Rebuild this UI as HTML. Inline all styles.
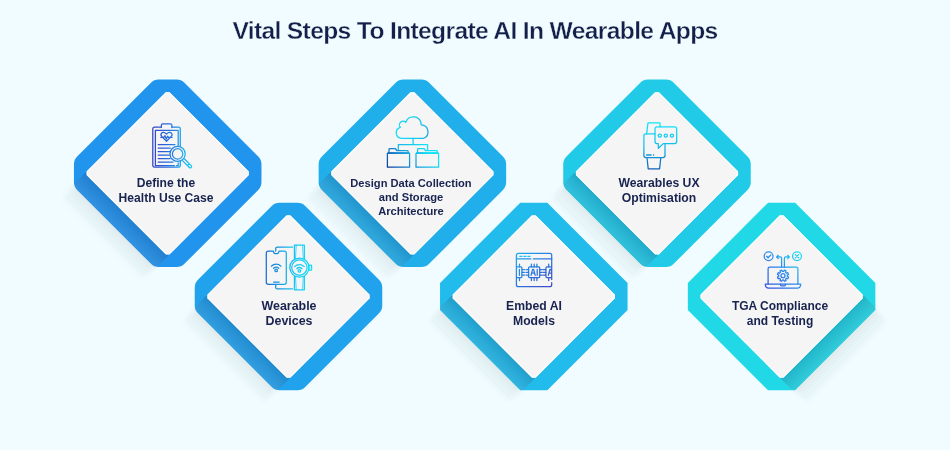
<!DOCTYPE html>
<html><head><meta charset="utf-8"><style>
html,body{margin:0;padding:0;}
body{width:950px;height:450px;overflow:hidden;background:#f0fcff;position:relative;font-family:"Liberation Sans",sans-serif;}
svg.main{position:absolute;left:0;top:0;}
.title{will-change:transform;position:absolute;left:0;width:950px;text-align:center;top:16.18px;font-size:24.6px;line-height:30px;font-weight:bold;color:#142049;letter-spacing:-0.64px;-webkit-text-stroke:0.35px #f0fcff;}
.lab{will-change:transform;position:absolute;width:200px;text-align:center;font-weight:bold;color:#18234f;white-space:nowrap;}
</style></head><body>
<div class="title">Vital Steps To Integrate AI In Wearable Apps</div>
<svg class="main" width="950" height="450" viewBox="0 0 950 450">
<defs>
<filter id="sblur" x="-20%" y="-50%" width="140%" height="200%"><feGaussianBlur stdDeviation="2"/></filter>
<linearGradient id="oshad" x1="0" y1="0" x2="0" y2="1"><stop offset="0" stop-color="#3a4448" stop-opacity="0.105"/><stop offset="1" stop-color="#3a4448" stop-opacity="0"/></linearGradient>
<linearGradient id="band" x1="0" y1="0" x2="0" y2="1"><stop offset="0" stop-color="#1a2f5a" stop-opacity="0.22"/><stop offset="1" stop-color="#8a96a8" stop-opacity="0.16"/></linearGradient>
<clipPath id="fc0"><path d="M-59.972,-72.628 A11.0,11.0 0 0 1 -52.194,-75.850 L52.194,-75.850 A11.0,11.0 0 0 1 59.972,-72.628 L72.628,-59.972 A11.0,11.0 0 0 1 75.850,-52.194 L75.850,52.194 A11.0,11.0 0 0 1 72.628,59.972 L59.972,72.628 A11.0,11.0 0 0 1 52.194,75.850 L-52.194,75.850 A11.0,11.0 0 0 1 -59.972,72.628 L-72.628,59.972 A11.0,11.0 0 0 1 -75.850,52.194 L-75.850,-52.194 A11.0,11.0 0 0 1 -72.628,-59.972 Z"/></clipPath><clipPath id="fc1"><path d="M-59.972,-72.628 A11.0,11.0 0 0 1 -52.194,-75.850 L52.194,-75.850 A11.0,11.0 0 0 1 59.972,-72.628 L72.628,-59.972 A11.0,11.0 0 0 1 75.850,-52.194 L75.850,52.194 A11.0,11.0 0 0 1 72.628,59.972 L59.972,72.628 A11.0,11.0 0 0 1 52.194,75.850 L-52.194,75.850 A11.0,11.0 0 0 1 -59.972,72.628 L-72.628,59.972 A11.0,11.0 0 0 1 -75.850,52.194 L-75.850,-52.194 A11.0,11.0 0 0 1 -72.628,-59.972 Z"/></clipPath><clipPath id="fc2"><path d="M-59.972,-72.628 A11.0,11.0 0 0 1 -52.194,-75.850 L52.194,-75.850 A11.0,11.0 0 0 1 59.972,-72.628 L72.628,-59.972 A11.0,11.0 0 0 1 75.850,-52.194 L75.850,52.194 A11.0,11.0 0 0 1 72.628,59.972 L59.972,72.628 A11.0,11.0 0 0 1 52.194,75.850 L-52.194,75.850 A11.0,11.0 0 0 1 -59.972,72.628 L-72.628,59.972 A11.0,11.0 0 0 1 -75.850,52.194 L-75.850,-52.194 A11.0,11.0 0 0 1 -72.628,-59.972 Z"/></clipPath><clipPath id="fc3"><path d="M-56.750,-75.850 L56.750,-75.850 L75.850,-56.750 L75.850,56.750 L56.750,75.850 L-56.750,75.850 L-75.850,56.750 L-75.850,-56.750 Z"/></clipPath><clipPath id="fc4"><path d="M-59.972,-72.628 A11.0,11.0 0 0 1 -52.194,-75.850 L52.194,-75.850 A11.0,11.0 0 0 1 59.972,-72.628 L72.628,-59.972 A11.0,11.0 0 0 1 75.850,-52.194 L75.850,52.194 A11.0,11.0 0 0 1 72.628,59.972 L59.972,72.628 A11.0,11.0 0 0 1 52.194,75.850 L-52.194,75.850 A11.0,11.0 0 0 1 -59.972,72.628 L-72.628,59.972 A11.0,11.0 0 0 1 -75.850,52.194 L-75.850,-52.194 A11.0,11.0 0 0 1 -72.628,-59.972 Z"/></clipPath><clipPath id="fc5"><path d="M-56.750,-75.850 L56.750,-75.850 L75.850,-56.750 L75.850,56.750 L56.750,75.850 L-56.750,75.850 L-75.850,56.750 L-75.850,-56.750 Z"/></clipPath>
</defs>
<g transform="translate(167.7,173.3) rotate(45)">
<rect x="-56.74999999999999" y="72.85" width="113.49999999999999" height="22" fill="url(#oshad)" filter="url(#sblur)"/>
<path d="M-59.972,-72.628 A11.0,11.0 0 0 1 -52.194,-75.850 L52.194,-75.850 A11.0,11.0 0 0 1 59.972,-72.628 L72.628,-59.972 A11.0,11.0 0 0 1 75.850,-52.194 L75.850,52.194 A11.0,11.0 0 0 1 72.628,59.972 L59.972,72.628 A11.0,11.0 0 0 1 52.194,75.850 L-52.194,75.850 A11.0,11.0 0 0 1 -59.972,72.628 L-72.628,59.972 A11.0,11.0 0 0 1 -75.850,52.194 L-75.850,-52.194 A11.0,11.0 0 0 1 -72.628,-59.972 Z" fill="#2194ee"/>
<rect x="-58.65" y="57.65" width="117.3" height="20.199999999999996" fill="url(#band)" clip-path="url(#fc0)"/>
<path d="M-56.100,-58.650 L56.100,-58.650 L58.650,-56.100 L58.650,56.100 L56.100,58.650 L-56.100,58.650 L-58.650,56.100 L-58.650,-56.100 Z" fill="#f5f5f5"/><path d="M-55.600,-58.150 L55.600,-58.150 L58.150,-55.600 L58.150,55.600 L55.600,58.150 L-55.600,58.150 L-58.150,55.600 L-58.150,-55.600 Z" fill="none" stroke="#ffffff" stroke-opacity="0.85" stroke-width="1"/>
</g><g transform="translate(288.5,296.5) rotate(45)">
<rect x="-56.74999999999999" y="72.85" width="113.49999999999999" height="22" fill="url(#oshad)" filter="url(#sblur)"/>
<path d="M-59.972,-72.628 A11.0,11.0 0 0 1 -52.194,-75.850 L52.194,-75.850 A11.0,11.0 0 0 1 59.972,-72.628 L72.628,-59.972 A11.0,11.0 0 0 1 75.850,-52.194 L75.850,52.194 A11.0,11.0 0 0 1 72.628,59.972 L59.972,72.628 A11.0,11.0 0 0 1 52.194,75.850 L-52.194,75.850 A11.0,11.0 0 0 1 -59.972,72.628 L-72.628,59.972 A11.0,11.0 0 0 1 -75.850,52.194 L-75.850,-52.194 A11.0,11.0 0 0 1 -72.628,-59.972 Z" fill="#21a2ed"/>
<rect x="-58.65" y="57.65" width="117.3" height="20.199999999999996" fill="url(#band)" clip-path="url(#fc1)"/>
<path d="M-56.100,-58.650 L56.100,-58.650 L58.650,-56.100 L58.650,56.100 L56.100,58.650 L-56.100,58.650 L-58.650,56.100 L-58.650,-56.100 Z" fill="#f5f5f5"/><path d="M-55.600,-58.150 L55.600,-58.150 L58.150,-55.600 L58.150,55.600 L55.600,58.150 L-55.600,58.150 L-58.150,55.600 L-58.150,-55.600 Z" fill="none" stroke="#ffffff" stroke-opacity="0.85" stroke-width="1"/>
</g><g transform="translate(412.4,173.3) rotate(45)">
<rect x="-56.74999999999999" y="72.85" width="113.49999999999999" height="22" fill="url(#oshad)" filter="url(#sblur)"/>
<path d="M-59.972,-72.628 A11.0,11.0 0 0 1 -52.194,-75.850 L52.194,-75.850 A11.0,11.0 0 0 1 59.972,-72.628 L72.628,-59.972 A11.0,11.0 0 0 1 75.850,-52.194 L75.850,52.194 A11.0,11.0 0 0 1 72.628,59.972 L59.972,72.628 A11.0,11.0 0 0 1 52.194,75.850 L-52.194,75.850 A11.0,11.0 0 0 1 -59.972,72.628 L-72.628,59.972 A11.0,11.0 0 0 1 -75.850,52.194 L-75.850,-52.194 A11.0,11.0 0 0 1 -72.628,-59.972 Z" fill="#21afeb"/>
<rect x="-58.65" y="57.65" width="117.3" height="20.199999999999996" fill="url(#band)" clip-path="url(#fc2)"/>
<path d="M-56.100,-58.650 L56.100,-58.650 L58.650,-56.100 L58.650,56.100 L56.100,58.650 L-56.100,58.650 L-58.650,56.100 L-58.650,-56.100 Z" fill="#f5f5f5"/><path d="M-55.600,-58.150 L55.600,-58.150 L58.150,-55.600 L58.150,55.600 L55.600,58.150 L-55.600,58.150 L-58.150,55.600 L-58.150,-55.600 Z" fill="none" stroke="#ffffff" stroke-opacity="0.85" stroke-width="1"/>
</g><g transform="translate(533.8,296.5) rotate(45)">
<rect x="-56.74999999999999" y="72.85" width="113.49999999999999" height="22" fill="url(#oshad)" filter="url(#sblur)"/>
<path d="M-56.750,-75.850 L56.750,-75.850 L75.850,-56.750 L75.850,56.750 L56.750,75.850 L-56.750,75.850 L-75.850,56.750 L-75.850,-56.750 Z" fill="#21bceb"/>
<rect x="-58.65" y="57.65" width="117.3" height="20.199999999999996" fill="url(#band)" clip-path="url(#fc3)"/>
<path d="M-56.100,-58.650 L56.100,-58.650 L58.650,-56.100 L58.650,56.100 L56.100,58.650 L-56.100,58.650 L-58.650,56.100 L-58.650,-56.100 Z" fill="#f5f5f5"/><path d="M-55.600,-58.150 L55.600,-58.150 L58.150,-55.600 L58.150,55.600 L55.600,58.150 L-55.600,58.150 L-58.150,55.600 L-58.150,-55.600 Z" fill="none" stroke="#ffffff" stroke-opacity="0.85" stroke-width="1"/>
</g><g transform="translate(657.0,173.3) rotate(45)">
<rect x="-56.74999999999999" y="72.85" width="113.49999999999999" height="22" fill="url(#oshad)" filter="url(#sblur)"/>
<path d="M-59.972,-72.628 A11.0,11.0 0 0 1 -52.194,-75.850 L52.194,-75.850 A11.0,11.0 0 0 1 59.972,-72.628 L72.628,-59.972 A11.0,11.0 0 0 1 75.850,-52.194 L75.850,52.194 A11.0,11.0 0 0 1 72.628,59.972 L59.972,72.628 A11.0,11.0 0 0 1 52.194,75.850 L-52.194,75.850 A11.0,11.0 0 0 1 -59.972,72.628 L-72.628,59.972 A11.0,11.0 0 0 1 -75.850,52.194 L-75.850,-52.194 A11.0,11.0 0 0 1 -72.628,-59.972 Z" fill="#21cbe8"/>
<rect x="-58.65" y="57.65" width="117.3" height="20.199999999999996" fill="url(#band)" clip-path="url(#fc4)"/>
<path d="M-56.100,-58.650 L56.100,-58.650 L58.650,-56.100 L58.650,56.100 L56.100,58.650 L-56.100,58.650 L-58.650,56.100 L-58.650,-56.100 Z" fill="#f5f5f5"/><path d="M-55.600,-58.150 L55.600,-58.150 L58.150,-55.600 L58.150,55.600 L55.600,58.150 L-55.600,58.150 L-58.150,55.600 L-58.150,-55.600 Z" fill="none" stroke="#ffffff" stroke-opacity="0.85" stroke-width="1"/>
</g><g transform="translate(781.6,296.5) rotate(-45)">
<rect x="-56.74999999999999" y="72.85" width="113.49999999999999" height="22" fill="url(#oshad)" filter="url(#sblur)"/>
<path d="M-56.750,-75.850 L56.750,-75.850 L75.850,-56.750 L75.850,56.750 L56.750,75.850 L-56.750,75.850 L-75.850,56.750 L-75.850,-56.750 Z" fill="#21d8e6"/>
<rect x="-58.65" y="57.65" width="117.3" height="20.199999999999996" fill="url(#band)" clip-path="url(#fc5)"/>
<path d="M-56.100,-58.650 L56.100,-58.650 L58.650,-56.100 L58.650,56.100 L56.100,58.650 L-56.100,58.650 L-58.650,56.100 L-58.650,-56.100 Z" fill="#f5f5f5"/><path d="M-55.600,-58.150 L55.600,-58.150 L58.150,-55.600 L58.150,55.600 L55.600,58.150 L-55.600,58.150 L-58.150,55.600 L-58.150,-55.600 Z" fill="none" stroke="#ffffff" stroke-opacity="0.85" stroke-width="1"/>
</g>
<defs>
<linearGradient id="ig1" gradientUnits="userSpaceOnUse" x1="152" y1="0" x2="192" y2="0"><stop offset="0" stop-color="#3340c4"/><stop offset="0.45" stop-color="#2672e0"/><stop offset="1" stop-color="#18d0f4"/></linearGradient>
</defs>
<g fill="none" stroke="url(#ig1)" stroke-width="1.25" stroke-linecap="round" stroke-linejoin="round">
<!-- clipboard outer -->
<path d="M161.3,127.2 H154.7 Q152.8,127.2 152.8,129.1 V165.3 Q152.8,167.2 154.7,167.2 H178.4 Q180.3,167.2 180.3,165.3 V160.5"/>
<path d="M180.3,146.3 V129.1 Q180.3,127.2 178.4,127.2 H171.9"/>
<!-- clip tab -->
<path d="M161.3,127.6 V125.4 Q161.3,123.9 162.8,123.9 H170.4 Q171.9,123.9 171.9,125.4 V127.6"/>
<!-- inner -->
<path d="M178.2,146.3 V130.4 H155.4 V165.7 H174.5 M178.2,162.8 V165.7 H176.5"/>
<!-- heart -->
<path d="M166.5,141.3 L161.7,136.4 Q160.2,134.6 161.6,133.1 Q163.6,131.4 166.5,134 Q169.4,131.4 171.4,133.1 Q172.8,134.6 171.3,136.4 Z"/>
<path d="M160.9,137.4 H163.8 L165,135.6 L166.3,139 L167.6,136.2 L168.4,137.4 H172.1"/>
<!-- lines -->
<path d="M158.2,144.5 H175 M158.2,148 H170.3 M158.2,151.5 H169.6 M158.2,155.1 H169.4 M158.2,158.6 H170.2 M158.2,162.2 H173"/>
<!-- magnifier -->
<circle cx="177.6" cy="153.9" r="7.6"/>
<circle cx="177.6" cy="153.9" r="5.2"/>
<path d="M184.3,158.8 L191.4,165.9 A1.3,1.3 0 0 1 189.6,167.7 L182.5,160.6 M189.3,163.8 L187.5,165.6"/>
</g>
<defs>
<linearGradient id="ig3c" gradientUnits="userSpaceOnUse" x1="396" y1="0" x2="431" y2="0"><stop offset="0" stop-color="#14dcf6"/><stop offset="0.6" stop-color="#14ccf2"/><stop offset="1" stop-color="#189ee6"/></linearGradient>
<linearGradient id="ig3c2" gradientUnits="userSpaceOnUse" x1="398" y1="0" x2="428" y2="0"><stop offset="0" stop-color="#16b8ea"/><stop offset="1" stop-color="#12e2f8"/></linearGradient>
<linearGradient id="ig3f" gradientUnits="userSpaceOnUse" x1="388" y1="168" x2="418" y2="140"><stop offset="0" stop-color="#0e3a9c"/><stop offset="0.45" stop-color="#168ed6"/><stop offset="1" stop-color="#12e4f8"/></linearGradient>
</defs>
<g fill="none" stroke-width="1.25" stroke-linecap="round" stroke-linejoin="round">
<path stroke="url(#ig3c)" d="M401.6,138.3 A5.6,5.6 0 0 1 400.4,127.3 A3.6,3.6 0 0 1 405.7,122.4 A8,8 0 0 1 420.9,122.2 L421.2,124.9 A7,7 0 0 1 423.8,138.3 Z"/>
<path stroke="url(#ig3c2)" d="M413.1,138.3 V144.5 M398.3,150.3 V144.5 H427.6 V150.3"/>
<path stroke="url(#ig3f)" d="M389,153.2 V149.3 Q389,148.5 389.8,148.5 H395.2 L396.8,150.5 H407.3 Q408.1,150.5 408.1,151.3 V153.2 M387.4,153.4 H409.6 V167.2 H387.4 Z"/><path stroke="url(#ig3f)" stroke-width="0.9" d="M388,152.5 H409"/>
<path stroke="url(#ig3f)" d="M417.6,153.2 V149.3 Q417.6,148.5 418.4,148.5 H423.9 L425.5,150.5 H436.5 Q437.3,150.5 437.3,151.3 V153.2 M416,153.4 H438.6 V167.2 H416 Z"/><path stroke="url(#ig3f)" stroke-width="0.9" d="M416.6,152.5 H438"/>
</g>
<defs>
<linearGradient id="ig2" gradientUnits="userSpaceOnUse" x1="266" y1="0" x2="312" y2="0"><stop offset="0" stop-color="#1a6cd0"/><stop offset="0.55" stop-color="#18c0f0"/><stop offset="1" stop-color="#14e0fa"/></linearGradient>
</defs>
<g fill="none" stroke="url(#ig2)" stroke-width="1.25" stroke-linecap="round" stroke-linejoin="round">
<path d="M268.4,251 H273.2 L274,252.9 Q274.4,253.6 275.2,253.6 H277.2 Q278,253.6 278.4,252.9 L279.2,251 H284.2 Q286.3,251 286.3,253.1 V282.3 Q286.3,284.4 284.2,284.4 H268.4 Q266.3,284.4 266.3,282.3 V253.1 Q266.3,251 268.4,251 Z"/>
<path d="M273.6,282 H279.2"/>
<path d="M275.7,251 V248.6 Q275.7,247.1 277.2,247.1 H292.6 M275.7,284.4 V287.4 Q275.7,288.9 277.2,288.9 H292.6"/>
<circle cx="276.2" cy="270.4" r="1.3"/>
<path d="M273.6,268.3 A3.8,3.8 0 0 1 278.8,268.3 M271.4,266.2 A6.8,6.8 0 0 1 281,266.2"/>
<path d="M294.4,258.8 L294.4,245 H304.4 V258.8 M294.4,276.4 V289.8 H304.4 V276.4"/>
<path stroke-width="0.8" d="M296.2,245.4 L295.5,258.4 M302.6,245.4 L303.3,258.4 M296.2,289.4 L295.5,276.8 M302.6,289.4 L303.3,276.8"/>
<circle cx="299.4" cy="267.6" r="9.6"/>
<circle cx="299.4" cy="267.6" r="7.7"/>
<rect x="309" y="265.1" width="2.6" height="5" rx="0.6"/>
<circle cx="299.4" cy="270.8" r="1.3"/>
<path d="M296.8,268.7 A3.8,3.8 0 0 1 302,268.7 M294.6,266.6 A6.8,6.8 0 0 1 304.2,266.6"/>
</g>
<defs>
<linearGradient id="ig4" gradientUnits="userSpaceOnUse" x1="518" y1="252" x2="548" y2="290"><stop offset="0" stop-color="#1eaaf0"/><stop offset="0.5" stop-color="#2a78e0"/><stop offset="1" stop-color="#3f48c8"/></linearGradient>
<clipPath id="ic4"><rect x="516.4" y="253.4" width="35.3" height="33.3"/></clipPath>
</defs>
<g fill="none" stroke="url(#ig4)" stroke-width="1.25" stroke-linecap="round" stroke-linejoin="round">
<path d="M551.7,279.5 V255.4 Q551.7,253.4 549.7,253.4 H518.4 Q516.4,253.4 516.4,255.4 V284.7 Q516.4,286.7 518.4,286.7 H549.7 Q551.7,286.7 551.7,284.7 V282.6"/>
<path d="M516.4,258.9 H530.8 M533.3,258.9 H551.7"/>
<path stroke="#20c4f4" d="M519.8,256.3 H522 M523.8,256.3 H526 M527.8,256.3 H530"/>
<rect x="528.6" y="266.9" width="11.1" height="10.7" rx="1"/>
<path d="M531.4,266.9 V264 M534.15,266.9 V264 M536.9,266.9 V264 M531.4,277.6 V280.5 M534.15,277.6 V280.5 M536.9,277.6 V280.5 M528.6,269.5 H526 M528.6,272.25 H526 M528.6,275 H526 M539.7,269.5 H542.3 M539.7,272.25 H542.3 M539.7,275 H542.3"/>
<path d="M531,275.3 L532.6,269.3 H533.6 L535.2,275.3 M531.6,273.2 H534.6 M537.2,269.3 V275.3"/>
<g clip-path="url(#ic4)">
<rect x="510.8" y="266.9" width="11.1" height="10.7" rx="1"/>
<path d="M519.5,266.9 V264 M519.5,277.6 V280.5 M521.9,269.5 H524.5 M521.9,272.25 H524.5 M521.9,275 H524.5 M519.4,269.3 V275.3"/>
<rect x="545.9" y="266.9" width="11.1" height="10.7" rx="1"/>
<path d="M548.7,266.9 V264 M548.7,277.6 V280.5 M545.9,269.5 H543.3 M545.9,272.25 H543.3 M545.9,275 H543.3 M548.3,275.3 L549.9,269.3 H550.9 L552.5,275.3 M548.9,273.2 H551.9"/>
</g>
</g>
<defs>
<linearGradient id="ig5" gradientUnits="userSpaceOnUse" x1="0" y1="123" x2="0" y2="169"><stop offset="0" stop-color="#12e4f8"/><stop offset="0.5" stop-color="#14bcee"/><stop offset="1" stop-color="#105cb8"/></linearGradient>
</defs>
<g fill="none" stroke="url(#ig5)" stroke-width="1.25" stroke-linecap="round" stroke-linejoin="round">
<path d="M646.6,133.9 L648,122.8 H659.8 L660.3,126.9"/>
<path d="M655,133.9 H646 Q643.9,133.9 643.9,136 V155.5 Q643.9,157.6 646,157.6 H662.9 Q665,157.6 665,155.5 V143.6"/>
<path d="M647,157.6 L648.2,168.8 H659.6 L660.8,157.6"/>
<path d="M657,126.9 H674.6 Q676.7,126.9 676.7,129 V141.5 Q676.7,143.6 674.6,143.6 H663.3 L658.3,148.3 V143.6 H657 Q655,143.6 655,141.5 V129 Q655,126.9 657,126.9 Z"/>
<circle cx="659.8" cy="135.6" r="1.6"/>
<circle cx="665.8" cy="135.6" r="1.6"/>
<circle cx="671.9" cy="135.6" r="1.6"/>
<path stroke-width="1.6" stroke-linecap="butt" d="M646.2,155 H651.6 M653,155 H654.2"/>
</g>
<defs>
<linearGradient id="ig6" gradientUnits="userSpaceOnUse" x1="766" y1="288" x2="801" y2="252"><stop offset="0" stop-color="#3550e0"/><stop offset="0.5" stop-color="#2a8cec"/><stop offset="1" stop-color="#1ee6f4"/></linearGradient>
</defs>
<g fill="none" stroke="url(#ig6)" stroke-width="1.25" stroke-linecap="round" stroke-linejoin="round">
<circle cx="768.6" cy="256.3" r="4.4"/>
<path d="M766.6,256.3 L768.1,257.8 L770.8,255"/>
<circle cx="797" cy="256.3" r="4.4"/>
<path d="M795.4,254.6 L798.6,257.8 M798.6,254.6 L795.4,257.8"/>
<path d="M781.6,267.1 V258.3 Q781.6,256.9 780.2,256.9 H776.6 M778.2,255.3 L776.6,256.9 L778.2,258.5"/>
<path d="M784.4,267.1 V258.3 Q784.4,256.9 785.8,256.9 H789.4 M787.8,255.3 L789.4,256.9 L787.8,258.5"/>
<path d="M768.1,284 V268.6 Q768.1,267.1 769.6,267.1 H796.4 Q797.9,267.1 797.9,268.6 V284"/>
<path d="M765.3,284 H800.7 Q800.7,288.2 797.2,288.2 H768.8 Q765.3,288.2 765.3,284 Z"/>
<path d="M780.6,284 V285 Q780.6,285.8 781.4,285.8 H784.6 Q785.4,285.8 785.4,285 V284"/>
<path d="M783.61,271.44 L784.33,270.16 L785.98,270.84 L785.58,272.26 L786.44,273.12 L787.86,272.72 L788.54,274.37 L787.26,275.09 L787.26,276.31 L788.54,277.03 L787.86,278.68 L786.44,278.28 L785.58,279.14 L785.98,280.56 L784.33,281.24 L783.61,279.96 L782.39,279.96 L781.67,281.24 L780.02,280.56 L780.42,279.14 L779.56,278.28 L778.14,278.68 L777.46,277.03 L778.74,276.31 L778.74,275.09 L777.46,274.37 L778.14,272.72 L779.56,273.12 L780.42,272.26 L780.02,270.84 L781.67,270.16 L782.39,271.44 Z"/>
<circle cx="783.0" cy="275.7" r="2"/>
</g>

</svg>
<div class="lab" style="left:66.10px;top:176.01px;font-size:12.1px;line-height:15.0px">Define the<br>Health Use Case</div><div class="lab" style="left:189.10px;top:299.04px;font-size:12.45px;line-height:14.9px">Wearable<br>Devices</div><div class="lab" style="left:310.90px;top:177.11px;font-size:11.15px;line-height:13.85px">Design Data Collection<br>and Storage<br>Architecture</div><div class="lab" style="left:434.00px;top:299.32px;font-size:12.2px;line-height:14.7px">Embed AI<br>Models</div><div class="lab" style="left:558.80px;top:176.27px;font-size:12.2px;line-height:14.6px">Wearables UX<br>Optimisation</div><div class="lab" style="left:679.90px;top:299.09px;font-size:12.0px;line-height:14.7px">TGA Compliance<br>and Testing</div>
</body></html>
